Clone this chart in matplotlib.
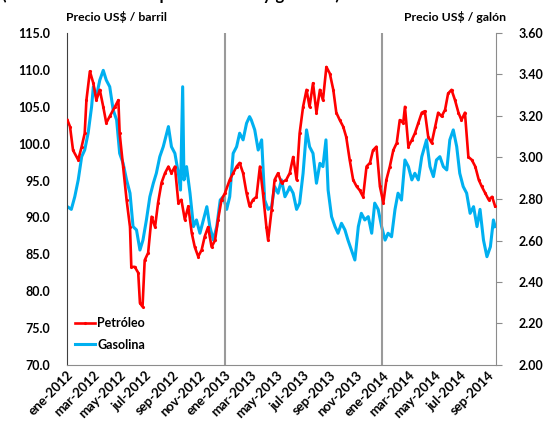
import matplotlib
matplotlib.use("Agg")
import matplotlib.pyplot as plt
import matplotlib.dates as mdates
import pandas as pd

plt.rcParams['font.family'] = ['Lato', 'DejaVu Sans']
plt.rcParams['font.weight'] = 'bold'

# Petróleo (US$ / barril)
oil_dates = [
    "2012-01-02", "2012-01-08", "2012-01-15", "2012-01-27", "2012-02-04", "2012-02-11",
    "2012-02-15", "2012-02-23", "2012-03-02", "2012-03-09", "2012-03-17", "2012-03-25",
    "2012-04-01", "2012-04-09", "2012-04-21", "2012-04-29", "2012-05-02", "2012-05-10",
    "2012-05-18", "2012-05-26", "2012-05-29", "2012-06-06", "2012-06-14", "2012-06-18",
    "2012-06-24", "2012-06-29", "2012-07-07", "2012-07-15", "2012-07-23", "2012-07-30",
    "2012-08-07", "2012-08-15", "2012-08-23", "2012-08-30", "2012-09-07", "2012-09-15",
    "2012-09-22", "2012-09-30", "2012-10-08", "2012-10-16", "2012-10-23", "2012-10-31",
    "2012-11-08", "2012-11-15", "2012-11-23", "2012-12-01", "2012-12-09", "2012-12-16",
    "2012-12-24", "2013-01-01", "2013-01-12", "2013-01-20", "2013-01-28", "2013-02-04",
    "2013-02-12", "2013-02-20", "2013-02-27", "2013-03-07", "2013-03-15", "2013-03-23",
    "2013-03-30", "2013-04-07", "2013-04-11", "2013-04-19", "2013-04-26", "2013-05-04",
    "2013-05-12", "2013-05-23", "2013-05-31", "2013-06-08", "2013-06-16", "2013-06-23",
    "2013-07-01", "2013-07-09", "2013-07-16", "2013-07-24", "2013-08-01", "2013-08-09",
    "2013-08-16", "2013-08-24", "2013-09-01", "2013-09-09", "2013-09-16", "2013-09-24",
    "2013-10-02", "2013-10-09", "2013-10-17", "2013-10-25", "2013-11-02", "2013-11-09",
    "2013-11-17", "2013-11-25", "2013-12-03", "2013-12-10", "2013-12-18", "2013-12-26",
    "2014-01-03", "2014-01-10", "2014-01-18", "2014-01-26", "2014-02-03", "2014-02-10",
    "2014-02-18", "2014-02-22", "2014-03-02", "2014-03-10", "2014-03-17", "2014-03-25",
    "2014-04-02", "2014-04-09", "2014-04-17", "2014-04-25", "2014-05-03", "2014-05-10",
    "2014-05-18", "2014-05-26", "2014-06-02", "2014-06-10", "2014-06-18", "2014-06-26",
    "2014-07-03", "2014-07-11", "2014-07-19", "2014-07-27", "2014-08-04", "2014-08-12",
    "2014-08-19", "2014-08-27", "2014-09-04", "2014-09-12", "2014-09-19",
]
oil_values = [
    103.2, 102.3, 99.1, 97.8, 99.6, 101.4,
    105.9, 109.8, 108.2, 105.9, 107.3, 105.0,
    102.8, 103.7, 105.0, 105.9, 101.4, 96.9,
    92.4, 88.7, 83.3, 83.3, 82.5, 78.4,
    77.9, 84.2, 85.2, 90.1, 88.7, 92.0,
    94.7, 96.0, 96.9, 96.0, 96.9, 92.0,
    92.4, 89.7, 91.5, 87.9, 86.0, 84.7,
    85.6, 87.4, 88.7, 86.0, 86.9, 89.7,
    92.4, 93.3, 95.1, 96.0, 96.9, 97.4,
    96.0, 93.3, 91.5, 92.4, 92.8, 96.9,
    93.3, 88.7, 86.9, 91.0, 95.1, 96.0,
    94.7, 95.1, 96.0, 98.2, 95.1, 101.4,
    105.0, 107.3, 105.0, 108.2, 104.2, 107.3,
    105.9, 110.4, 109.5, 107.3, 104.2, 103.2,
    102.3, 100.9, 97.8, 95.1, 94.2, 93.7,
    92.8, 96.9, 97.4, 99.1, 99.6, 94.2,
    92.0, 95.1, 96.9, 99.1, 100.1, 103.2,
    102.8, 105.0, 99.6, 100.5, 101.4, 102.8,
    104.2, 104.4, 100.9, 100.1, 102.3, 104.2,
    103.7, 104.6, 106.8, 107.3, 105.9, 104.2,
    103.2, 104.2, 98.2, 97.8, 96.9, 95.1,
    94.2, 93.3, 92.4, 92.8, 91.5,
]

# Gasolina (US$ / galón)
gas_dates = [
    "2012-01-02", "2012-01-11", "2012-01-19", "2012-01-27", "2012-02-04", "2012-02-11",
    "2012-02-19", "2012-02-27", "2012-03-02", "2012-03-09", "2012-03-17", "2012-03-25",
    "2012-04-01", "2012-04-09", "2012-04-17", "2012-04-25", "2012-05-02", "2012-05-10",
    "2012-05-18", "2012-05-26", "2012-06-02", "2012-06-10", "2012-06-18", "2012-06-25",
    "2012-07-03", "2012-07-11", "2012-07-19", "2012-07-26", "2012-08-03", "2012-08-11",
    "2012-08-19", "2012-08-23", "2012-08-30", "2012-09-07", "2012-09-15", "2012-09-20",
    "2012-09-25", "2012-09-28", "2012-10-04", "2012-10-12", "2012-10-20", "2012-10-27",
    "2012-11-04", "2012-11-12", "2012-11-20", "2012-11-27", "2012-12-05", "2012-12-13",
    "2012-12-21", "2012-12-28", "2013-01-05", "2013-01-12", "2013-01-20", "2013-01-28",
    "2013-02-04", "2013-02-12", "2013-02-20", "2013-02-27", "2013-03-03", "2013-03-11",
    "2013-03-19", "2013-03-27", "2013-04-03", "2013-04-11", "2013-04-19", "2013-04-26",
    "2013-05-04", "2013-05-12", "2013-05-20", "2013-05-28", "2013-05-31", "2013-06-08",
    "2013-06-16", "2013-06-23", "2013-07-01", "2013-07-09", "2013-07-16", "2013-07-24",
    "2013-08-01", "2013-08-09", "2013-08-16", "2013-08-23", "2013-08-28", "2013-09-05",
    "2013-09-13", "2013-09-20", "2013-09-28", "2013-10-06", "2013-10-13", "2013-10-21",
    "2013-10-29", "2013-11-06", "2013-11-13", "2013-11-21", "2013-11-29", "2013-12-07",
    "2013-12-14", "2013-12-22", "2013-12-30", "2014-01-07", "2014-01-14", "2014-01-22",
    "2014-01-30", "2014-02-06", "2014-02-14", "2014-02-22", "2014-03-02", "2014-03-10",
    "2014-03-17", "2014-03-25", "2014-04-02", "2014-04-13", "2014-04-21", "2014-04-29",
    "2014-05-06", "2014-05-14", "2014-05-22", "2014-05-30", "2014-06-06", "2014-06-14",
    "2014-06-22", "2014-06-29", "2014-07-07", "2014-07-15", "2014-07-23", "2014-07-31",
    "2014-08-08", "2014-08-15", "2014-08-23", "2014-08-31", "2014-09-08", "2014-09-15",
    "2014-09-19",
]
gas_values = [
    2.763, 2.750, 2.811, 2.892, 3.004, 3.036,
    3.118, 3.245, 3.341, 3.293, 3.373, 3.420,
    3.373, 3.341, 3.229, 3.181, 3.020, 2.972,
    2.892, 2.828, 2.667, 2.651, 2.554, 2.602,
    2.699, 2.811, 2.876, 2.924, 3.004, 3.052,
    3.117, 3.149, 3.052, 3.020, 2.924, 2.843,
    3.341, 2.892, 2.956, 2.828, 2.667, 2.699,
    2.635, 2.699, 2.763, 2.667, 2.602, 2.667,
    2.795, 2.811, 2.750, 2.811, 3.020, 3.052,
    3.117, 3.085, 3.165, 3.197, 3.181, 3.133,
    3.036, 3.085, 2.795, 2.750, 2.763, 2.860,
    2.828, 2.892, 2.811, 2.843, 2.859, 2.828,
    2.750, 2.780, 2.924, 3.133, 3.052, 3.020,
    2.876, 2.972, 2.956, 3.085, 2.843, 2.715,
    2.667, 2.635, 2.683, 2.651, 2.602, 2.554,
    2.506, 2.667, 2.731, 2.699, 2.715, 2.635,
    2.780, 2.750, 2.667, 2.602, 2.635, 2.618,
    2.750, 2.828, 2.795, 2.988, 2.956, 2.892,
    2.924, 2.892, 3.004, 3.085, 2.956, 2.908,
    2.988, 3.004, 2.956, 2.940, 3.085, 3.133,
    3.052, 2.924, 2.860, 2.828, 2.731, 2.763,
    2.667, 2.750, 2.602, 2.522, 2.570, 2.699,
    2.667,
]

year_marks = ["2013-01-01", "2014-01-01"]
x_start, x_end = "2012-01-01", "2014-09-21"

oil_x = pd.to_datetime(oil_dates)
gas_x = pd.to_datetime(gas_dates)

fig = plt.figure(figsize=(5.56, 4.45), dpi=100)
ax = fig.add_axes([67 / 556, 1 - 365 / 445, (496 - 67) / 556, (365 - 33) / 445])
ax2 = ax.twinx()

l1, = ax.plot(oil_x, oil_values, color='#FF0000', lw=1.9, marker='.', markersize=2.5, zorder=3)
l2, = ax2.plot(gas_x, gas_values, color='#00B0F0', lw=2.2, zorder=2)
ax.set_zorder(ax2.get_zorder() + 1)
ax.patch.set_visible(False)

for d in year_marks:
    ax.axvline(pd.Timestamp(d), color='#9a9a9a', lw=1.5, zorder=1)

ax.set_xlim(pd.Timestamp(x_start), pd.Timestamp(x_end))
ax.set_ylim(70, 115)
ax.set_yticks([70 + 5 * i for i in range(10)])
ax.yaxis.set_major_formatter(matplotlib.ticker.FormatStrFormatter('%.1f'))
ax2.set_ylim(2.0, 3.6)
ax2.set_yticks([2.0 + 0.2 * i for i in range(9)])
ax2.yaxis.set_major_formatter(matplotlib.ticker.FormatStrFormatter('%.2f'))

meses = ['ene', 'feb', 'mar', 'abr', 'may', 'jun', 'jul', 'ago', 'sep', 'oct', 'nov', 'dic']
ax.xaxis.set_major_locator(mdates.MonthLocator(bymonth=[1, 3, 5, 7, 9, 11]))
ax.xaxis.set_major_formatter(matplotlib.ticker.FuncFormatter(
    lambda v, p: f"{meses[mdates.num2date(v).month - 1]}-{mdates.num2date(v).year}"))

ax.spines['top'].set_visible(False)
ax2.spines['top'].set_visible(False)
ax.spines['left'].set_color('#404040')
ax.spines['bottom'].set_color('#8c8c8c')
ax2.spines['right'].set_color('#8c8c8c')
ax2.spines['left'].set_visible(False)
ax2.spines['bottom'].set_visible(False)
ax.spines['right'].set_visible(False)

ax.tick_params(axis='y', length=0, pad=12, labelsize=9)
ax.tick_params(axis='x', length=0, pad=3, labelsize=9.5)
ax2.tick_params(axis='y', length=4, color='#8c8c8c', pad=12, labelsize=9)
for lab in ax.get_xticklabels():
    lab.set_rotation(45)
    lab.set_ha('right')
    lab.set_rotation_mode('anchor')

fig.text(66 / 556, 1 - 17 / 445, 'Precio US$ / barril', fontsize=8.8, fontweight='bold', va='center', ha='left')
fig.text(506 / 556, 1 - 17 / 445, 'Precio US$ / galón', fontsize=8.8, fontweight='bold', va='center', ha='right')
fig.text(2 / 556, 1.0, '(Cotización diaria del petróleo WTI y gasolina)', fontsize=12, fontweight='bold',
         va='baseline', ha='left')

ax.legend([l1, l2], ['Petróleo', 'Gasolina'], loc='lower left', bbox_to_anchor=(0.0, 0.02), frameon=False,
          fontsize=9, handlelength=1.6, handletextpad=0.2, labelspacing=0.75, borderaxespad=0.2)

fig.savefig('out.png', dpi=100)
